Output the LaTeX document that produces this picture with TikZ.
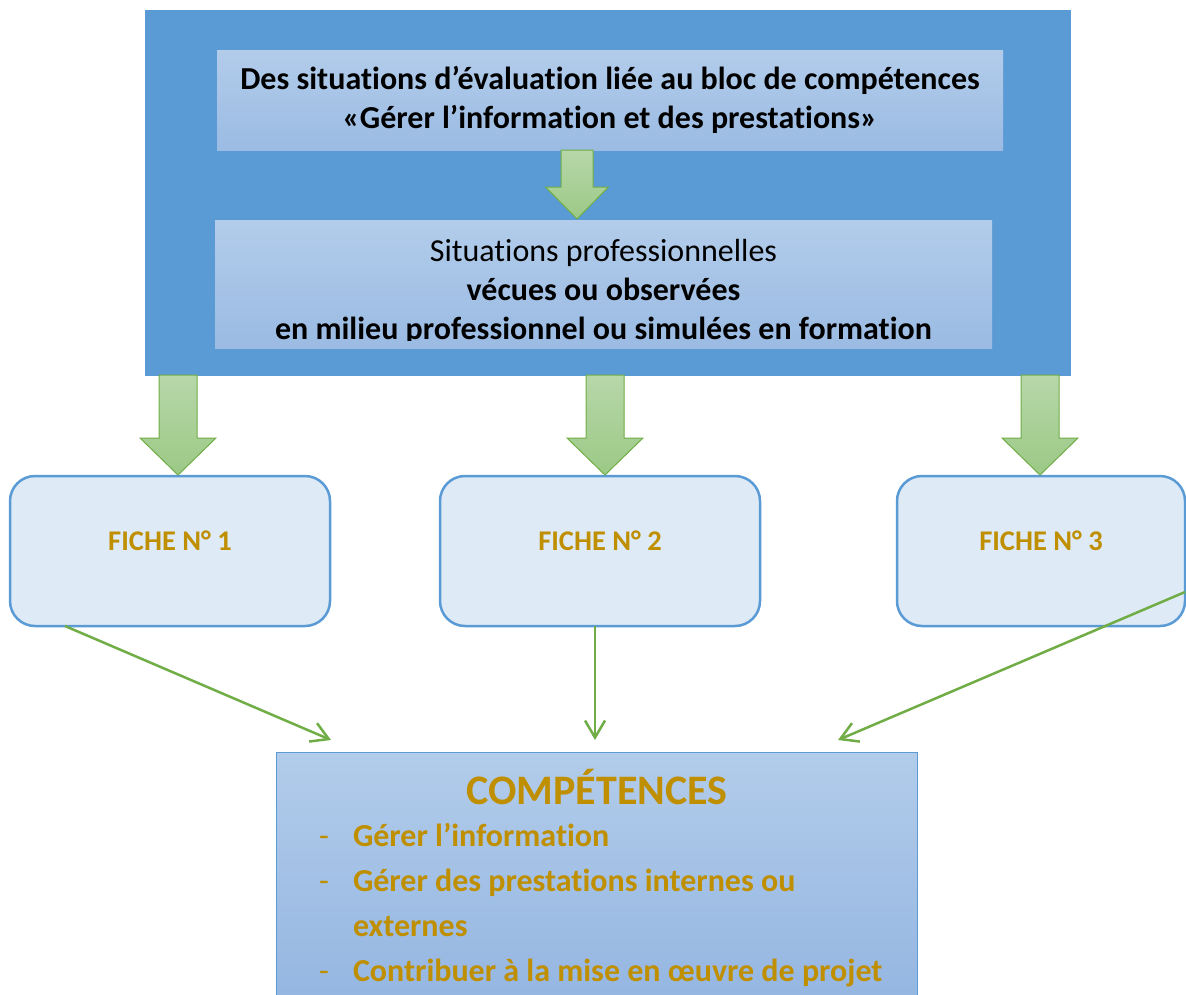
\documentclass[tikz,border=0pt]{standalone}
\usepackage{fontspec}
\setmainfont{Carlito}[Ligatures=CommonOff]
\usetikzlibrary{arrows.meta, positioning, calc}
\definecolor{bleuFond}{HTML}{5B9BD5}
\definecolor{bleuHaut}{HTML}{B2CCEA}
\definecolor{bleuBas}{HTML}{9BBBE3}
\definecolor{compBas}{HTML}{93B5E1}
\definecolor{vertClair}{HTML}{B7D7A9}
\definecolor{vertFonce}{HTML}{9CC986}
\definecolor{vertBord}{HTML}{70AD47}
\definecolor{ficheFond}{HTML}{DEEAF6}
\definecolor{dore}{HTML}{BF8F00}
\tikzset{%
	cadre/.style={
		rectangle,
		fill=bleuFond,
		draw=bleuFond
	},
	encart/.style={
		rectangle,
		top color=bleuHaut,
		bottom color=bleuBas,
		draw=none
	},
	fiche/.style={
		rectangle,
		rounded corners=25pt,
		draw=bleuFond,
		line width=2.5pt,
		fill=ficheFond,
		text=dore,
		font=\fontsize{28.5}{34}\selectfont\bfseries,
		text height=18pt,
		text depth=20pt,
		minimum height=150pt
	},
	flecheVerte/.style={
		draw=vertBord,
		line width=1pt,
		top color=vertClair,
		bottom color=vertFonce
	},
	lien/.style={
		draw=vertBord,
		line width=2.5pt,
		-{Straight Barb[length=17pt, width=20pt]}
	},
}
% fleche epaisse : depart, pointe, demi-largeur du corps, demi-largeur de la tete, longueur de la tete
\newcommand{\flecheBloc}[5]{%
	\path[flecheVerte] let \p1=(#1), \p2=(#2) in
		(\x2-#3,\y1) -- (\x2+#3,\y1) -- (\x2+#3,\y2+#5) -- (\x2+#4,\y2+#5)
		-- (\x2,\y2) -- (\x2-#4,\y2+#5) -- (\x2-#3,\y2+#5) -- cycle;
}
\begin{document}
\begin{tikzpicture}[
				x=1pt, y=-1pt,
				every node/.style={inner sep=0pt, outer sep=0pt},
				texte/.style={align=center, font=\fontsize{32}{39}\selectfont\bfseries}
				]
				\useasboundingbox (0,0) rectangle (1186,994);

				% cadre du haut
				\node[cadre, minimum width=925pt, minimum height=365pt] (cadre) at (607.5,192.5) {};
				\node[encart, minimum width=786pt, minimum height=100pt] (bloc) at (610,100) {};
				\node[encart, minimum width=777pt, minimum height=128pt] (situations) at (603.5,284) {};
				\node[texte, anchor=base] (blocTexte) at (610,128)
					{Des situations d’évaluation liée au bloc de compétences\\«Gérer l’information et des prestations»};
				\begin{scope}
					\clip (215,220) rectangle (992,340);
					\node[texte, anchor=base] (situationsTexte) at (603.5,339)
						{\mdseries Situations professionnelles\\vécues ou observées\\en milieu professionnel ou simulées en formation};
				\end{scope}
				\coordinate (p0) at (577,219);
				\flecheBloc{bloc.south}{p0}{16}{31.5}{32}

				% les trois fiches
				\node[fiche, minimum width=320pt] (fiche1) at (170,551) {FICHE N° 1};
				\node[fiche, minimum width=320pt] (fiche2) at (600,551) {FICHE N° 2};
				\node[fiche, minimum width=288pt] (fiche3) at (1041,551) {FICHE N° 3};
				\coordinate (p1) at (178,475);
				\coordinate (p2) at (605,475);
				\coordinate (p3) at (1040,475);
				\foreach \pointe in {p1, p2, p3} {
					\flecheBloc{cadre.south}{\pointe}{19}{38}{37}
				}

				% competences
				\node[rectangle, draw=bleuFond, line width=1pt, top color=bleuHaut, bottom color=compBas,
					minimum width=641pt, minimum height=262pt] (comp) at (596.5,883) {};
				\node[anchor=base, text=dore, font=\fontsize{42}{50}\selectfont\bfseries] (compTitre) at (597,804) {COMPÉTENCES};
				\foreach \y/\t/\d in {846/Gérer l’information/-, 891/Gérer des prestations internes ou/-,
						936/externes/, 981/Contribuer à la mise en œuvre de projet/-} {
					\node[anchor=base, text=dore, font=\fontsize{32}{39}\selectfont] at (324,\y) {\d};
					\node[anchor=base west, text=dore, font=\fontsize{32}{39}\selectfont\bfseries] at (353,\y) {\t};
				}

				% liens vers les competences
				\coordinate (c1) at (331,740);
				\coordinate (c2) at (595,740);
				\coordinate (c3) at (838,740);
				\draw[lien] ([xshift=-105pt]fiche1.south) -- (c1);
				\draw[lien] ([xshift=-5pt]fiche2.south) -- (c2);
				\draw[lien] ([yshift=-41pt]fiche3.east) -- (c3);
			\end{tikzpicture}
\end{document}
